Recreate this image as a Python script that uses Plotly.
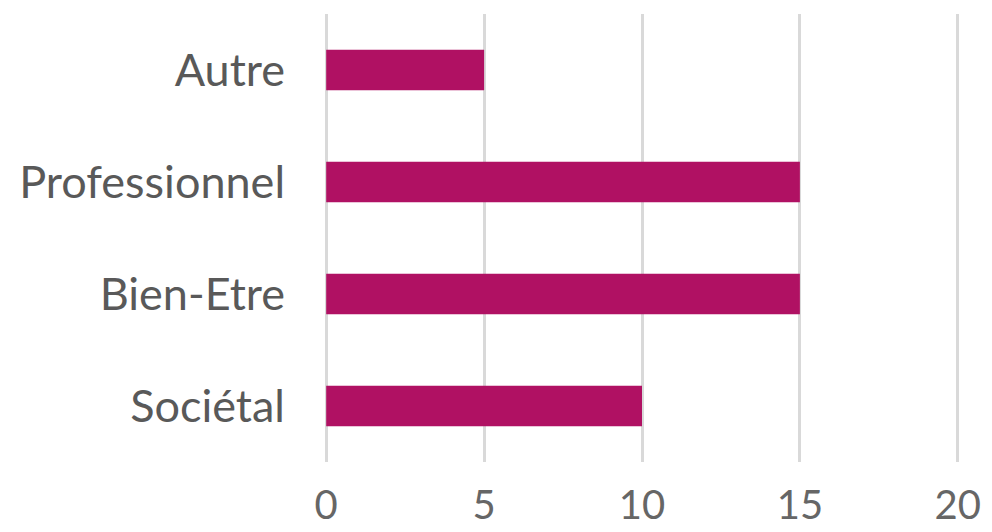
import plotly.graph_objects as go

categories = ["Sociétal", "Bien-Etre", "Professionnel", "Autre"]
values = [10, 15, 15, 5]
x_ticks = [0, 5, 10, 15, 20]

fig = go.Figure(go.Bar(
    x=values, y=categories, orientation="h",
    marker=dict(color="#B01163", line=dict(width=0)),
))

yfont = dict(family="Lato, Noto Sans, sans-serif", size=45, color="#595959")
xfont = dict(family="Lato, Noto Sans, sans-serif", size=40, color="#666666")
fig.update_layout(
    width=992, height=532,
    margin=dict(l=316, r=40, t=6, b=78),
    paper_bgcolor="white", plot_bgcolor="white",
    bargap=0.64, showlegend=False,
    xaxis=dict(range=[-0.07, 20.07], tickvals=x_ticks, showgrid=True, gridcolor="#d9d9d9",
               gridwidth=3, zeroline=False, showline=False, ticks="",
               tickfont=xfont, ticklabelstandoff=16, automargin=False),
    yaxis=dict(categoryorder="array", categoryarray=categories, showgrid=False,
               zeroline=False, showline=False, ticks="", tickfont=yfont,
               ticklabelstandoff=38, automargin=False),
)
fig.write_html("out.html")
